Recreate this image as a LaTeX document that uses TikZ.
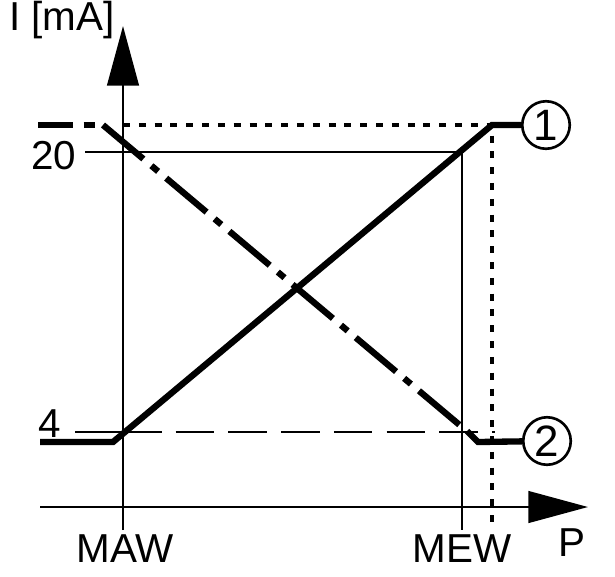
\documentclass[tikz,border=0pt]{standalone}
\usepackage{fontspec}
\setmainfont{Liberation Sans}
\usetikzlibrary{arrows.meta}
\tikzset{
  thin line/.style={line width=1.5pt},
  thick line/.style={line width=3.6pt},
  marker/.style={circle,draw,line width=1.5pt,minimum size=0.95cm,inner sep=0pt},
  lbl/.style={font=\fontsize{23}{26}\selectfont,inner sep=0pt}
}
\begin{document}
\begin{tikzpicture}[x=0.02cm,y=-0.02cm]
            \useasboundingbox (0,0) rectangle (615,576);

            % axes
            \coordinate (yb) at (123,530);
            \coordinate (yt) at (123,26);
            \coordinate (xl) at (40,507);
            \coordinate (xr) at (588,507);
            \draw[thin line,-{Triangle[length=34pt,width=18pt]}] (yb) -- (yt);
            \draw[thin line,-{Triangle[length=34pt,width=18pt]}] (xl) -- (xr);
            \node[lbl] (ylab) at (62,20){I [mA]};
            \node[lbl] (xlab) at (572,543){P};
            \node[lbl] (maw) at (125,549){MAW};
            \node[lbl] (mew) at (462,549){MEW};

            % levels 20 and 4
            \node[lbl] (l20) at (54,156){20};
            \node[lbl] (l4) at (50,424){4};
            \draw[thin line] (85,152) -- (462,152) -- (462,530);
            \draw[thin line] (75,432) -- (123,432);
            \draw[thin line,dash pattern=on 22pt off 8pt] (123,432) -- (495,432);
            \draw[line width=2.2pt,dash pattern=on 4pt off 5pt] (123,125) -- (492,125) -- (492,530);

            % outputs
            \node[marker] (o1) at (546,125){\fontsize{25}{27}\selectfont 1};
            \node[marker] (o2) at (547,441){\fontsize{25}{27}\selectfont 2};
            \draw[thick line] (40,442) -- (113,442) -- (492,125) -- (o1);
            \draw[thick line,dash pattern=on 20pt off 6pt] (38,125) -- (95,125);
            \draw[thick line,dash pattern=on 30pt off 6pt on 5pt off 6pt] (103,125) -- (462,427);
            \draw[thick line] (467,431) -- (478,442) -- (o2);
\end{tikzpicture}
\end{document}
